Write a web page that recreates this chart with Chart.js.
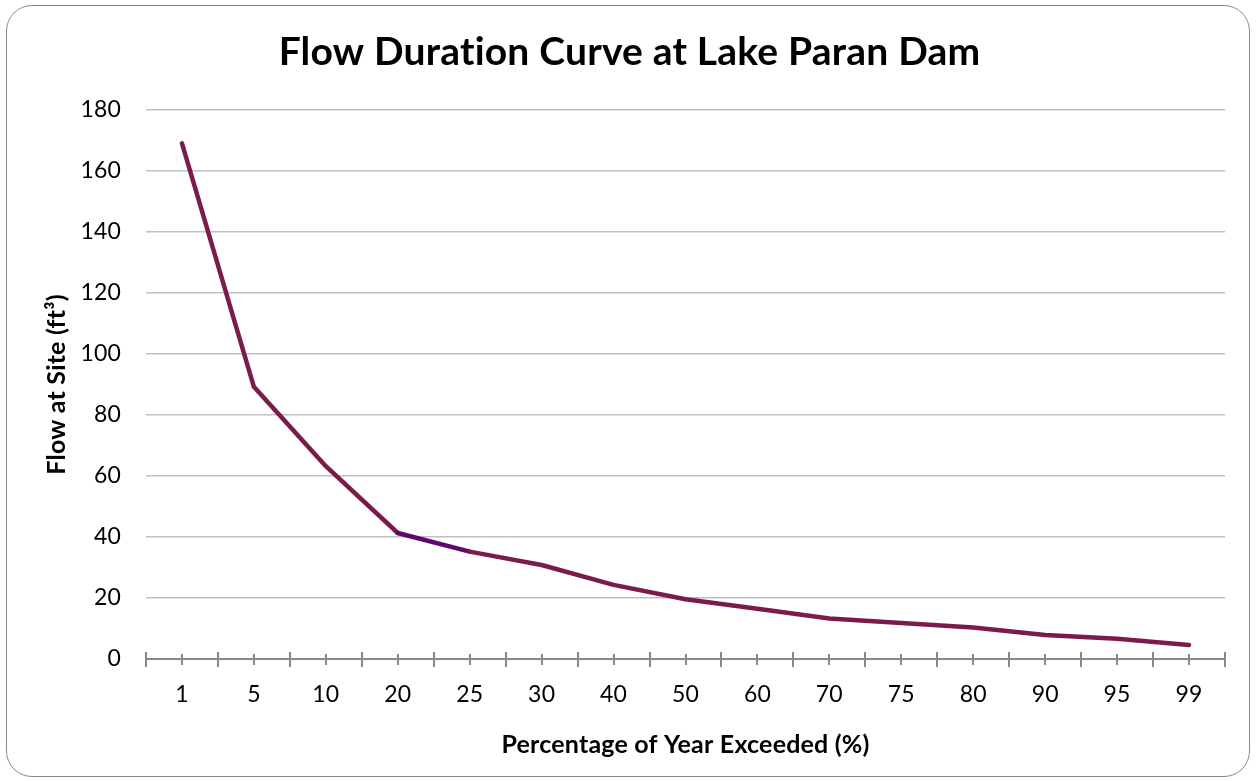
<!DOCTYPE html>
<html>
<head>
<meta charset="utf-8">
<title>Flow Duration Curve at Lake Paran Dam</title>
<script src="https://cdn.jsdelivr.net/npm/chart.js@4"></script>
<style>
  html, body { margin: 0; padding: 0; background: #fff; }
  #wrap { position: relative; width: 1256px; height: 781px; }
  #frame { position: absolute; left: 6px; top: 5px; width: 1242px; height: 770px;
           border: 1.5px solid #8a8a8a; border-radius: 26px; pointer-events: none; }
</style>
</head>
<body>
<div id="wrap">
  <canvas id="flowChart" width="1256" height="781"></canvas>
  <div id="frame"></div>
</div>
<script>
// percentage of year exceeded (category labels)
const percentLabels = ['1', '5', '10', '20', '25', '30', '40', '50', '60', '70', '75', '80', '90', '95', '99'];
// flow at site
const flowValues = [169, 89.2, 63.2, 41.3, 35.2, 30.8, 24.3, 19.6, 16.5, 13.3, 11.8, 10.3, 7.9, 6.6, 4.6];
const yTicks = [0, 20, 40, 60, 80, 100, 120, 140, 160, 180];

const lineColor = '#7a1c4b';
const purpleSeg = '#5e0a6c';

// keep canvas from drawing the "ti" ligature in Lato
const noLigatures = {
  id: 'noLigatures',
  beforeDraw(chart) {
    chart.ctx.textRendering = 'optimizeSpeed';
    chart.ctx.letterSpacing = '0.2px';
  }
};

// excel-style x ticks: long ones on category boundaries, short ones at category centres
const xTickMarks = {
  id: 'xTickMarks',
  afterDraw(chart) {
    const x = chart.scales.x, ctx = chart.ctx;
    const yLine = x.top;
    ctx.save();
    ctx.strokeStyle = '#888';
    ctx.lineWidth = 2;
    for (let i = 0; i <= percentLabels.length; i++) {
      const px = Math.round(x.getPixelForValue(i - 0.5));
      ctx.beginPath(); ctx.moveTo(px, yLine - 7); ctx.lineTo(px, yLine + 8); ctx.stroke();
    }
    for (let i = 0; i < percentLabels.length; i++) {
      const px = Math.round(x.getPixelForValue(i));
      ctx.beginPath(); ctx.moveTo(px, yLine - 5); ctx.lineTo(px, yLine + 6); ctx.stroke();
    }
    ctx.restore();
  }
};

const ctx = document.getElementById('flowChart').getContext('2d');
new Chart(ctx, {
  type: 'line',
  data: {
    labels: percentLabels,
    datasets: [{
      data: flowValues,
      borderColor: lineColor,
      borderWidth: 4.5,
      borderCapStyle: 'round',
      borderJoinStyle: 'round',
      pointRadius: 0,
      tension: 0,
      segment: { borderColor: c => (c.p0DataIndex === 3 ? purpleSeg : lineColor) }
    }]
  },
  options: {
    responsive: false,
    animation: false,
    layout: { padding: { left: 34, right: 31, top: 0, bottom: 0 } },
    plugins: {
      legend: { display: false },
      tooltip: { enabled: false },
      title: {
        display: true,
        text: 'Flow Duration Curve at Lake Paran Dam',
        color: '#000',
        font: { family: 'Lato', size: 39, weight: 'bold' },
        padding: { top: 29, bottom: 34 }
      }
    },
    scales: {
      x: {
        offset: true,
        grid: { drawOnChartArea: false, drawTicks: false },
        border: { display: true, color: '#888', width: 2 },
        ticks: { color: '#000', font: { family: 'Lato', size: 23 }, padding: 22, maxRotation: 0 },
        title: {
          display: true,
          text: 'Percentage of Year Exceeded (%)',
          color: '#000',
          font: { family: 'Lato', size: 25, weight: 'bold' },
          padding: { top: 0, bottom: 21 }
        },
        afterFit: s => { s.height = 122; }
      },
      y: {
        min: 0,
        max: 180,
        afterBuildTicks: s => { s.ticks = yTicks.map(v => ({ value: v })); },
        grid: { color: '#c0c0c0', lineWidth: 1.6, drawTicks: false },
        border: { display: false },
        ticks: { color: '#000', font: { family: 'Lato', size: 23 }, padding: 25 },
        title: {
          display: true,
          text: 'Flow at Site (ft³)',
          color: '#000',
          font: { family: 'Lato', size: 25, weight: 'bold' },
          padding: { top: 8, bottom: 0 }
        },
        afterFit: s => { s.width = 112; }
      }
    }
  },
  plugins: [noLigatures, xTickMarks]
});
</script>
</body>
</html>
